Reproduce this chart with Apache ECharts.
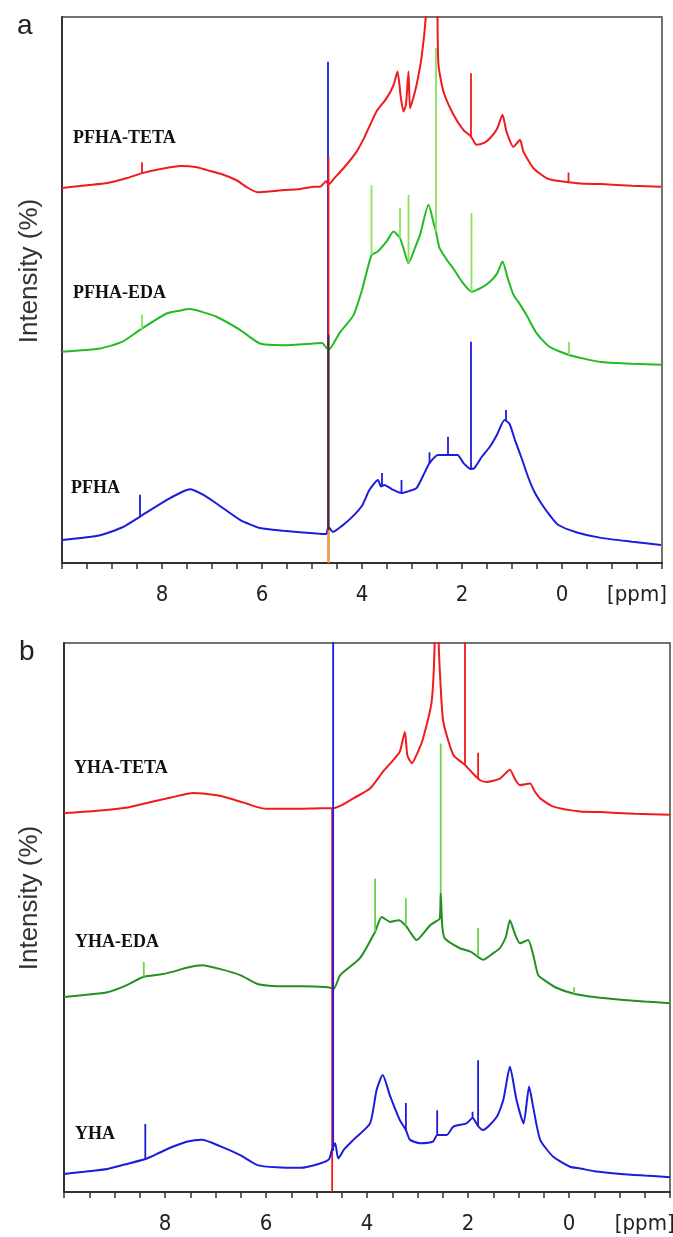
<!DOCTYPE html>
<html><head><meta charset="utf-8">
<script src="https://cdn.jsdelivr.net/npm/echarts@6/dist/echarts.min.js"></script>
<style>html,body{margin:0;padding:0;background:#fff}#c{width:673px;height:1237px}</style>
</head><body><div id="c"></div>
<script>
// ---- axis / labels ----
const tickValues = [8, 6, 4, 2, 0];
const unitTick = -1.5;
const unitLabel = '[ppm]';
const panelLetters = ['a', 'b'];
const yTitle = 'Intensity (%)';
const namesA = ['PFHA-TETA', 'PFHA-EDA', 'PFHA'];
const namesB = ['YHA-TETA', 'YHA-EDA', 'YHA'];

// ---- panel a: [ppm, intensity] ----
const tetaA = [[10.0,68.7],[9.5,69.2],[9.09,69.6],[8.7,70.5],[8.40,71.4],[8.0,72.2],[7.63,72.7],[7.3,72.5],[7.12,72.0],[6.8,71.2],[6.51,70.1],[6.3,68.8],[6.09,67.9],[5.7,68.2],[5.23,68.5],[4.95,68.9],[4.84,68.9],[4.72,69.9],[4.67,69.3],[4.55,70.5],[4.37,72.3],[4.11,75.3],[3.95,78.0],[3.84,80.2],[3.71,82.7],[3.51,85.1],[3.37,87.5],[3.29,90.0],[3.22,85.0],[3.17,82.7],[3.12,84.0],[3.07,90.0],[3.04,83.3],[2.98,85.0],[2.91,87.5],[2.81,92.5],[2.72,100.4],[2.60,118],[2.52,135],[2.49,100],[2.47,91.2],[2.37,86.3],[2.17,82.1],[1.97,79.3],[1.82,78.1],[1.71,76.6],[1.55,77.0],[1.44,77.8],[1.30,79.5],[1.19,82.1],[1.11,79.0],[0.97,76.2],[0.84,77.5],[0.77,75.3],[0.57,72.3],[0.31,70.5],[0.10,70.0],[-0.36,69.5],[-0.78,69.4],[-1.4,69.1],[-1.98,68.9]];
const tetaASpikes = [[8.40,71.4,73.4],[4.67,74.4,0],[1.82,78.1,89.7],[-0.13,69.8,71.5]];

const edaA = [[10.0,38.7],[9.24,39.3],[8.8,40.5],[8.44,42.7],[7.91,45.7],[7.6,46.3],[7.44,46.5],[7.2,46.0],[6.91,45.1],[6.44,42.7],[6.04,40.2],[5.57,39.9],[4.97,40.2],[4.80,40.3],[4.67,39.0],[4.45,42.1],[4.17,45.4],[4.0,50.0],[3.81,56.4],[3.69,57.0],[3.50,59.0],[3.37,60.7],[3.24,59.5],[3.15,57.0],[3.07,54.9],[2.95,57.5],[2.84,60.1],[2.67,65.6],[2.56,62.0],[2.52,60.7],[2.45,57.7],[2.30,55.5],[2.17,53.9],[2.0,51.5],[1.81,49.7],[1.60,50.5],[1.44,51.5],[1.30,53.0],[1.19,55.2],[1.08,52.0],[0.97,49.1],[0.85,47.5],[0.71,45.4],[0.51,42.1],[0.25,39.6],[-0.14,38.1],[-0.78,36.8],[-1.4,36.5],[-1.98,36.3]];
const edaASpikes = [[8.40,42.7,45.5],[3.81,56.4,69.2],[3.24,59.5,65.0],[3.07,54.9,67.4],[2.52,60.7,94.3],[1.81,49.7,64.1],[-0.14,38.1,40.5]];

const pfhaA = [[10.0,4.2],[9.24,5.1],[8.8,6.5],[8.44,8.5],[7.91,11.5],[7.6,13.0],[7.44,13.5],[7.2,12.6],[6.91,10.9],[6.44,7.9],[6.04,6.4],[5.57,5.9],[4.91,5.4],[4.72,5.3],[4.67,6.6],[4.58,5.7],[4.40,6.8],[4.20,8.4],[4.0,10.5],[3.85,13.4],[3.68,15.2],[3.62,14.0],[3.55,14.3],[3.40,13.5],[3.21,12.8],[3.05,13.2],[2.91,13.7],[2.75,16.5],[2.65,18.3],[2.48,19.8],[2.28,19.8],[2.09,19.8],[1.97,18.3],[1.82,17.2],[1.75,17.4],[1.60,19.5],[1.45,21.2],[1.30,23.5],[1.15,26.2],[1.05,25.5],[0.94,22.5],[0.80,19.0],[0.68,15.8],[0.55,13.0],[0.42,11.0],[0.25,8.8],[0.08,7.0],[-0.3,5.6],[-0.78,4.6],[-1.4,3.9],[-1.98,3.3]];
const pfhaASpikes = [[8.44,8.5,12.5],[4.68,5.3,91.8],[3.60,14.2,16.5],[3.21,12.8,15.2],[2.65,18.3,20.3],[2.28,19.8,23.1],[1.82,17.2,40.5],[1.12,26.0,28.0]];

const waterDarkA = [[4.67,41.8],[4.67,6.0]];
const waterOrangeA = [[4.67,6.0],[4.67,0]];

// ---- panel b ----
const tetaB = [[10.0,69.0],[9.4,69.4],[8.71,70.1],[8.3,71.0],[7.86,71.9],[7.44,72.7],[7.0,72.3],[6.68,71.6],[6.4,70.8],[6.17,70.1],[6.0,69.8],[5.32,69.8],[4.93,69.9],[4.67,69.9],[4.47,70.6],[4.27,71.7],[3.94,73.5],[3.68,76.6],[3.45,79.0],[3.35,80.2],[3.25,83.8],[3.20,79.5],[3.11,78.1],[3.00,80.0],[2.89,82.6],[2.72,89.3],[2.66,100],[2.62,125],[2.58,100],[2.55,93.6],[2.49,85.7],[2.29,79.6],[2.06,77.8],[1.90,76.2],[1.76,75.0],[1.63,74.7],[1.37,75.3],[1.17,76.9],[1.07,75.2],[0.97,74.1],[0.77,74.4],[0.68,73.0],[0.57,71.7],[0.31,70.2],[-0.22,69.3],[-0.61,69.2],[-1.3,68.9],[-2.0,68.7]];
const tetaBSpikes = [[4.69,69.9,0],[2.06,77.8,110],[1.80,75.2,80.0]];

const edaB = [[10.0,35.5],[9.6,35.9],[9.14,36.4],[8.8,37.5],[8.42,39.2],[8.1,39.6],[7.86,40.1],[7.55,40.9],[7.27,41.3],[6.9,40.6],[6.51,39.5],[6.17,37.9],[5.8,37.5],[5.32,37.5],[4.77,37.3],[4.66,37.0],[4.53,39.5],[4.14,42.6],[3.84,47.4],[3.71,50.1],[3.54,49.2],[3.37,49.5],[3.23,48.5],[3.15,47.4],[3.02,45.9],[2.75,48.6],[2.65,49.2],[2.56,49.8],[2.54,54.5],[2.51,48.5],[2.46,46.2],[2.16,44.4],[1.95,43.8],[1.70,42.3],[1.50,43.5],[1.37,44.4],[1.25,46.5],[1.17,49.5],[1.07,47.0],[0.97,45.3],[0.81,45.9],[0.71,43.2],[0.61,39.5],[0.49,38.6],[0.25,37.2],[-0.10,36.1],[-0.5,35.5],[-1.03,35.0],[-1.5,34.7],[-2.0,34.4]];
const edaBSpikes = [[8.42,39.2,41.9],[3.84,47.4,57.1],[3.23,48.5,53.5],[2.54,54.5,81.7],[1.80,43.0,48.1],[-0.10,36.1,37.3]];

const yhaB = [[10.0,3.3],[9.6,3.7],[9.14,4.2],[8.8,5.0],[8.39,6.0],[8.1,7.2],[7.86,8.2],[7.55,9.2],[7.27,9.5],[6.9,8.3],[6.51,6.7],[6.17,4.9],[5.8,4.5],[5.32,4.4],[4.93,5.2],[4.75,6.0],[4.70,7.5],[4.63,8.9],[4.57,6.1],[4.45,7.8],[4.27,9.5],[3.94,12.5],[3.81,18.6],[3.69,21.3],[3.54,17.4],[3.35,13.1],[3.23,11.3],[3.15,9.5],[2.95,8.9],[2.69,9.2],[2.61,10.4],[2.42,10.4],[2.29,11.9],[2.03,12.5],[1.91,13.5],[1.80,12.0],[1.70,11.3],[1.43,13.7],[1.30,16.8],[1.17,22.8],[1.04,16.8],[0.90,12.5],[0.79,19.2],[0.71,15.5],[0.57,9.5],[0.31,6.4],[-0.02,4.6],[-0.22,4.3],[-0.5,3.8],[-1.03,3.3],[-1.5,3.0],[-2.0,2.7]];
const yhaBSpikes = [[8.39,6.0,12.4],[4.67,7.5,110],[3.23,11.3,16.2],[2.61,10.4,14.9],[1.91,13.5,14.6],[1.80,12.0,24.0]];

// ---- colours ----
const RED = '#ee1c1c', GREEN_A = '#22bb22', GREEN_A_SPK = '#8ee25a', BLUE = '#1c1cdd',
      GREEN_B = '#228f22', GREEN_B_SPK = '#6fd24a', DARK = '#333333', ORANGE = '#f0a030';

function spikeData(sp) {
  const out = [];
  sp.forEach(s => { out.push([s[0], s[1]]); out.push([s[0], s[2]]); out.push([s[0], '-']); });
  return out;
}
function line(name, data, color, idx, width, smooth) {
  return { name, type: 'line', xAxisIndex: idx, yAxisIndex: idx, data, showSymbol: false, symbol: 'none',
    connectNulls: false, clip: true, animation: false, silent: true,
    smooth: smooth || false,
    lineStyle: { color, width: width || 2 } };
}

const chart = echarts.init(document.getElementById('c'), null, { renderer: 'canvas' });

const grids = [
  { left: 62, right: 11, top: 17, height: 546 },
  { left: 64, right: 3, top: 643, height: 549 }
];
function xAx(i) {
  return { type: 'value', gridIndex: i, min: -2, max: 10, interval: 0.5, inverse: true,
    axisLine: { show: true, onZero: false, lineStyle: { color: '#333', width: 2 } },
    axisTick: { show: true, inside: false, length: 6, interval: 0, lineStyle: { color: '#333', width: 1.5 } },
    axisLabel: { show: true, interval: 0, margin: 21, color: '#222', fontSize: 22,
      fontFamily: '"Liberation Sans Narrow", "DejaVu Sans Condensed", sans-serif',
      showMinLabel: true, showMaxLabel: true,
      formatter: v => tickValues.includes(v) ? String(v) : (v === unitTick ? unitLabel : '') },
    splitLine: { show: false } };
}
function yAx(i) {
  return { type: 'value', gridIndex: i, min: 0, max: 100, position: 'left',
    axisLine: { show: true, onZero: false, lineStyle: { color: '#333', width: 2 } },
    axisTick: { show: false }, axisLabel: { show: false }, splitLine: { show: false } };
}

const S = 0.2;
const series = [
  // panel a
  line('PFHA', pfhaA, BLUE, 0, 2, S),
  line('PFHA spikes', spikeData(pfhaASpikes), BLUE, 0, 1.8),
  line('PFHA-EDA', edaA, GREEN_A, 0, 2, S),
  line('PFHA-EDA spikes', spikeData(edaASpikes), GREEN_A_SPK, 0, 1.8),
  line('PFHA-TETA', tetaA, RED, 0, 2, S),
  line('PFHA-TETA spikes', spikeData(tetaASpikes), RED, 0, 1.8),
  line('overlap', waterDarkA, DARK, 0, 1.8),
  line('ref', waterOrangeA, ORANGE, 0, 1.8),
  // panel b
  line('YHA-EDA', edaB, GREEN_B, 1, 2, S),
  line('YHA-EDA spikes', spikeData(edaBSpikes), GREEN_B_SPK, 1, 1.8),
  line('YHA-TETA', tetaB, RED, 1, 2, S),
  line('YHA-TETA spikes', spikeData(tetaBSpikes), RED, 1, 1.8),
  line('YHA', yhaB, BLUE, 1, 2, S),
  line('YHA spikes', spikeData(yhaBSpikes), BLUE, 1, 1.8)
];

const SERIF = '"Liberation Serif", "DejaVu Serif", serif';
const SANS = '"Liberation Sans", Arial, sans-serif';
function txt(x, y, text, font, size, weight, fill) {
  return { type: 'text', x, y, silent: true,
    style: { text, fill: fill || '#222', fontSize: size, fontFamily: font, fontWeight: weight || 'normal',
      textVerticalAlign: 'middle' } };
}
function vtxt(x, y, text) {
  return { type: 'text', x, y, rotation: Math.PI / 2, silent: true,
    style: { text, fill: '#333', fontSize: 26, fontFamily: SANS, textAlign: 'center', textVerticalAlign: 'middle' } };
}
const graphics = [
  txt(17, 26, panelLetters[0], SANS, 28),
  txt(19, 652, panelLetters[1], SANS, 28),
  vtxt(30, 271, yTitle),
  vtxt(30, 898, yTitle),
  txt(73, 138, namesA[0], SERIF, 18, 'bold', '#111'),
  txt(73, 293, namesA[1], SERIF, 18, 'bold', '#111'),
  txt(71, 488, namesA[2], SERIF, 18, 'bold', '#111'),
  txt(74, 768, namesB[0], SERIF, 18, 'bold', '#111'),
  txt(75, 942, namesB[1], SERIF, 18, 'bold', '#111'),
  txt(75, 1134, namesB[2], SERIF, 18, 'bold', '#111')
];

chart.setOption({
  animation: false,
  backgroundColor: '#fff',
  grid: grids.map(g => Object.assign({ show: true, borderColor: '#444', borderWidth: 1.5,
    backgroundColor: 'transparent', containLabel: false, outerBoundsMode: 'none' }, g)),
  xAxis: [xAx(0), xAx(1)],
  yAxis: [yAx(0), yAx(1)],
  series,
  graphic: graphics
});
</script></body></html>
